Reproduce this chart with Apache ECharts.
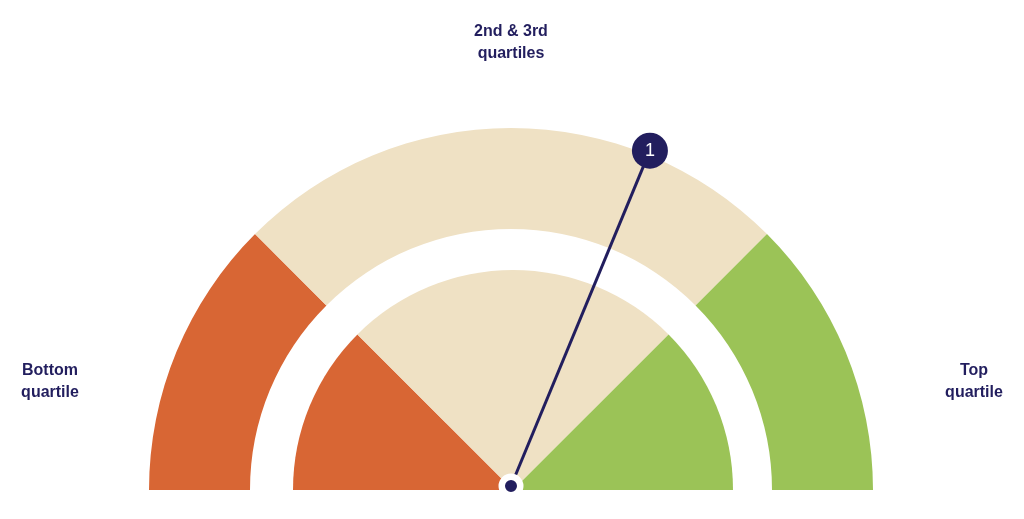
<!DOCTYPE html>
<html>
<head>
<meta charset="utf-8">
<script src="https://cdn.jsdelivr.net/npm/echarts@6/dist/echarts.min.js"></script>
<style>
html,body{margin:0;padding:0;background:#fff;}
#chart{width:1024px;height:519px;}
</style>
</head>
<body>
<div id="chart"></div>
<script>
// Band definitions (share of the half-circle, in percent)
var bandNames = ['Bottom quartile', '2nd & 3rd quartiles', 'Top quartile'];
var bandValues = [25, 50, 25];
var bandColors = ['#d86634', '#efe1c4', '#9bc357'];
// Needle position on 0-100 scale (left = 0, right = 100)
var markerValue = 62.5;
var markerLabel = '1';
var navy = '#221e5e';

var chart = echarts.init(document.getElementById('chart'));

function pieData() {
  var d = bandValues.map(function (v, i) {
    return { name: bandNames[i], value: v, itemStyle: { color: bandColors[i] } };
  });
  d.push({ name: 'hidden', value: 100, itemStyle: { color: 'rgba(0,0,0,0)' }, label: { show: false }, emphasis: { disabled: true } });
  return d;
}

var labelStyle = { fill: navy, fontFamily: 'Liberation Sans', fontWeight: 'bold', fontSize: 16, lineHeight: 22, align: 'center', verticalAlign: 'top' };
function textEl(txt, x, y) {
  return { type: 'text', x: x, y: y, silent: true, style: Object.assign({ text: txt }, labelStyle) };
}

var option = {
  backgroundColor: '#fff',
  animation: false,
  graphic: [
    textEl('2nd & 3rd\nquartiles', 511, 21),
    textEl('Bottom\nquartile', 50, 360),
    textEl('Top\nquartile', 974, 360)
  ],
  polar: { center: [511, 486], radius: 363 },
  angleAxis: { type: 'value', min: 0, max: 200, startAngle: 180, clockwise: true, show: false },
  radiusAxis: { type: 'value', min: 0, max: 363, show: false },
  series: [
    {
      type: 'pie', silent: true, startAngle: 180, center: [511, 490], radius: [261, 362],
      label: { show: false }, labelLine: { show: false }, data: pieData()
    },
    {
      type: 'pie', silent: true, startAngle: 180, center: [513, 490], radius: [0, 220],
      label: { show: false }, labelLine: { show: false }, data: pieData()
    },
    {
      type: 'line', coordinateSystem: 'polar', silent: true, symbol: 'none',
      lineStyle: { color: navy, width: 3 },
      data: [[0, markerValue], [363, markerValue]], z: 5
    },
    {
      type: 'scatter', coordinateSystem: 'polar', silent: true,
      symbol: 'circle', symbolSize: 18.5,
      itemStyle: { color: navy, borderColor: '#fff', borderWidth: 6.5, opacity: 1 },
      data: [[0, markerValue]], z: 6
    },
    {
      type: 'scatter', coordinateSystem: 'polar', silent: true,
      symbol: 'circle', symbolSize: 36,
      itemStyle: { color: navy, opacity: 1 },
      label: { show: true, position: 'inside', formatter: markerLabel, color: '#fff',
        fontFamily: 'Liberation Sans', fontSize: 18 },
      data: [[363, markerValue]], z: 7
    }
  ]
};
chart.setOption(option);
</script>
</body>
</html>
